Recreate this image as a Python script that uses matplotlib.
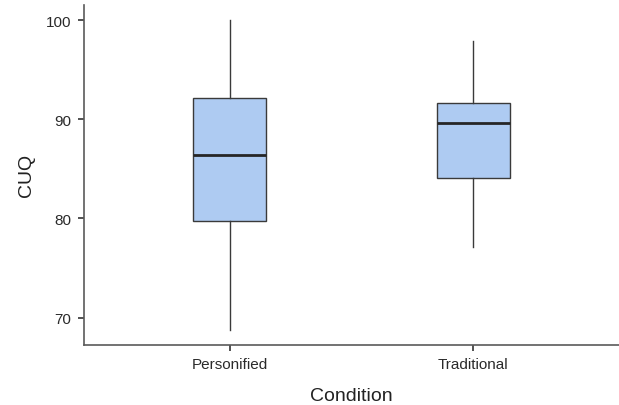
import matplotlib
matplotlib.use("Agg")
import matplotlib.pyplot as plt

categories = ["Personified", "Traditional"]
whislo = [68.8, 77.1]
q1 = [79.7, 84.1]
med = [86.45, 89.6]
q3 = [92.2, 91.65]
whishi = [100.0, 97.85]
yticks = [70, 80, 90, 100]

plt.rcParams['font.family'] = ['Liberation Sans', 'DejaVu Sans']

fig = plt.figure(figsize=(6.19, 4.06), dpi=100)
ax = fig.add_axes([84/619, 60/406, 535/619, 340.3/406])

stats = []
for i, c in enumerate(categories):
    stats.append(dict(label=c, whislo=whislo[i], q1=q1[i], med=med[i], q3=q3[i], whishi=whishi[i], fliers=[]))

ax.bxp(stats, positions=[1, 2], widths=0.3, patch_artist=True, showcaps=False,
       boxprops=dict(facecolor="#aecbf2", edgecolor="#3a3a3a", linewidth=1.0),
       medianprops=dict(color="#262626", linewidth=2.0),
       whiskerprops=dict(color="#3a3a3a", linewidth=1.0))

ax.set_xlim(0.4, 2.6)
ax.set_ylim(67.24, 101.56)
ax.set_yticks(yticks)
ax.set_xticks([1, 2])
ax.set_xticklabels(categories)
for s in ["top", "right"]:
    ax.spines[s].set_visible(False)
for s in ["left", "bottom"]:
    ax.spines[s].set_color("#5a5a5a")
    ax.spines[s].set_linewidth(1.2)
ax.tick_params(axis="both", colors="#333333", labelsize=11, length=4, width=1.2, pad=5)
ax.tick_params(axis="both", labelcolor="#2a2a2a")
ax.set_xlabel("Condition", fontsize=14, color="#222222", labelpad=11)
ax.set_ylabel("CUQ", fontsize=14, color="#222222", labelpad=8)

fig.savefig("out.png", dpi=100)
